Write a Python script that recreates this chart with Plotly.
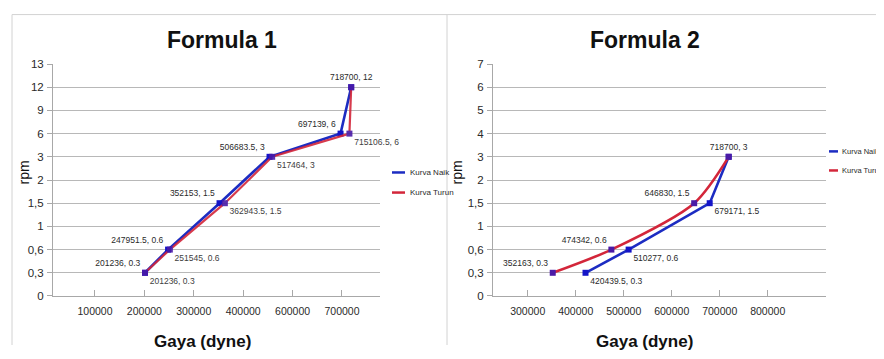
import numpy as np
import plotly.graph_objects as go

# page offset of the plot (body margin) and figure size
OFF = 8
W, H = 876, 343
# measured vertical mapping of the photographed page: y_photo = VY0 + VS * y_page
VY0, VS = 6.5, 0.961

# ---------------- data ----------------
series_names = ["Kurva Naik", "Kurva Turun"]

# Formula 1
f1_naik_x = [201236, 247951.5, 352153, 506683.5, 697139, 718700]
f1_naik_y = [0.3, 0.6, 1.5, 3, 6, 12]
f1_turun_x = [718700, 715106.5, 517464, 362943.5, 251545, 201236]
f1_turun_y = [12, 6, 3, 1.5, 0.6, 0.3]
f1_x_ticks = [100000, 200000, 300000, 400000, 600000, 700000]
f1_y_ticks = [0, 0.3, 0.6, 1, 1.5, 2, 3, 6, 9, 12, 13]

# Formula 2
f2_naik_x = [420439.5, 510277, 679171, 718700]
f2_naik_y = [0.3, 0.6, 1.5, 3]
f2_turun_x = [718700, 646830, 474342, 352163]
f2_turun_y = [3, 1.5, 0.6, 0.3]
f2_x_ticks = [300000, 400000, 500000, 600000, 700000, 800000]
f2_y_ticks = [0, 0.3, 0.6, 1, 1.5, 2, 3, 4, 5, 6, 7]

titles = ["Formula 1", "Formula 2"]
x_title = "Gaya (dyne)"
y_title = "rpm"

# ---------------- style ----------------
FONT = "Liberation Sans Narrow, Arial Narrow, Liberation Sans, Arial, sans-serif"
BLUE = "#1c2cc2"
RED = "#d3263a"
BLUE_MK = "#1414c8"
RED_MK = "#4a1aa6"
GRID = "#b8b8b8"
TXT = "#2a2a2a"
LABEL_SIZE = 8.5


def fmt(v):
    return f"{v:.10g}"


def to_index(values, ticks):
    """Piecewise-linear position of values on an axis whose ticks are equally spaced."""
    t = np.asarray(ticks, float)
    v = np.asarray(values, float)
    idx = np.arange(len(t), dtype=float)
    out = np.interp(v, t, idx)
    lo = v < t[0]
    out[lo] = (v[lo] - t[0]) / (t[1] - t[0])
    hi = v > t[-1]
    out[hi] = len(t) - 1 + (v[hi] - t[-1]) / (t[-1] - t[-2])
    return out


def labels(xs, ys):
    return [f"{fmt(x)}, {fmt(y)}" for x, y in zip(xs, ys)]


def px_x(p):  # target photo pixel -> paper fraction
    return (p - OFF) / W


def px_y(p):
    page = (p - VY0) / VS
    return min(1.0, max(0.0, 1 - (page - OFF) / H))


fig = go.Figure()
lab_font = dict(family=FONT, size=LABEL_SIZE, color=TXT)

# ---------- Formula 1 ----------
t = labels(f1_naik_x, f1_naik_y)
pos = ["top left"] * (len(t) - 1) + ["top center"]
fig.add_trace(go.Scatter(
    x=to_index(f1_naik_x, f1_x_ticks), y=to_index(f1_naik_y, f1_y_ticks),
    mode="lines+markers+text", name=series_names[0],
    line=dict(color=BLUE, width=2.6),
    marker=dict(symbol="square", size=6, color=BLUE_MK),
    text=t, textposition=pos, textfont=lab_font,
    xaxis="x", yaxis="y", showlegend=False, cliponaxis=False))
t = labels(f1_turun_x, f1_turun_y)
t[0] = ""
pos = ["bottom right"] * len(t)
fig.add_trace(go.Scatter(
    x=to_index(f1_turun_x, f1_x_ticks), y=to_index(f1_turun_y, f1_y_ticks),
    mode="lines+markers+text", name=series_names[1],
    line=dict(color=RED, width=2.2),
    marker=dict(symbol="square", size=6, color=RED_MK),
    text=t, textposition=pos, textfont=lab_font,
    xaxis="x", yaxis="y", showlegend=False, cliponaxis=False, opacity=0.9))

# ---------- Formula 2 ----------
t = labels(f2_naik_x, f2_naik_y)
pos = ["bottom right"] * (len(t) - 1) + ["top center"]
fig.add_trace(go.Scatter(
    x=f2_naik_x, y=to_index(f2_naik_y, f2_y_ticks),
    mode="lines+markers+text", name=series_names[0],
    line=dict(color=BLUE, width=2.6),
    marker=dict(symbol="square", size=6, color=BLUE_MK),
    text=t, textposition=pos, textfont=lab_font,
    xaxis="x2", yaxis="y2", showlegend=False, cliponaxis=False))
t = labels(f2_turun_x, f2_turun_y)
t[0] = ""
pos = ["top left"] * len(t)
fig.add_trace(go.Scatter(
    x=f2_turun_x, y=to_index(f2_turun_y, f2_y_ticks),
    mode="lines+markers+text", name=series_names[1],
    line=dict(color=RED, width=2.6, shape="spline", smoothing=0.8),
    marker=dict(symbol="square", size=6, color=RED_MK),
    text=t, textposition=pos, textfont=lab_font,
    xaxis="x2", yaxis="y2", showlegend=False, cliponaxis=False))

ydom = [px_y(295), px_y(64)]
common_x = dict(showgrid=False, zeroline=False, showline=True, linecolor="#a8a8a8",
                linewidth=1, ticks="inside", ticklen=6, tickcolor="#a8a8a8",
                tickfont=dict(family=FONT, size=10.5, color=TXT),
                ticklabelstandoff=5, fixedrange=True)
common_y = dict(showgrid=True, gridcolor=GRID, gridwidth=1, zeroline=False, showline=True,
                linecolor="#a8a8a8", linewidth=1, ticks="outside", ticklen=5,
                tickcolor="#a8a8a8", tickfont=dict(family=FONT, size=11.5, color=TXT),
                ticklabelstandoff=1, fixedrange=True)

# Formula 2 x range: 300000 at photo x 527.7, 48 px per 100000
F2_LEFT, F2_RIGHT = 493, 826
x2_lo = 300000 - (527.7 - F2_LEFT) / 48.0 * 100000
x2_hi = 300000 + (F2_RIGHT - 527.7) / 48.0 * 100000

fig.update_layout(
    width=W, height=H, margin=dict(l=0, r=0, t=0, b=0),
    paper_bgcolor="white", plot_bgcolor="white",
    xaxis=dict(domain=[px_x(53), px_x(380)], anchor="y",
               range=[-0.85, len(f1_x_ticks) - 1 + 0.77],
               tickvals=list(range(len(f1_x_ticks))),
               ticktext=[fmt(v) for v in f1_x_ticks], **common_x),
    yaxis=dict(domain=ydom, anchor="x", range=[0, len(f1_y_ticks) - 1],
               tickvals=list(range(len(f1_y_ticks))),
               ticktext=[fmt(v).replace(".", ",") for v in f1_y_ticks], **common_y),
    xaxis2=dict(domain=[px_x(F2_LEFT), px_x(F2_RIGHT)], anchor="y2",
                range=[x2_lo, x2_hi], tickvals=f2_x_ticks,
                ticktext=[fmt(v) for v in f2_x_ticks], **common_x),
    yaxis2=dict(domain=ydom, anchor="x2", range=[0, len(f2_y_ticks) - 1],
                tickvals=list(range(len(f2_y_ticks))),
                ticktext=[fmt(v).replace(".", ",") for v in f2_y_ticks], **common_y),
)

# panel borders
border = dict(color="#d2d2d2", width=1)
top = 1 - 0.6 / H
fig.add_shape(type="line", xref="paper", yref="paper", x0=px_x(12), x1=1, y0=top, y1=top, line=border)
fig.add_shape(type="line", xref="paper", yref="paper", x0=px_x(12), x1=px_x(12), y0=0, y1=top, line=border)
fig.add_shape(type="line", xref="paper", yref="paper", x0=px_x(447), x1=px_x(447), y0=0, y1=top, line=border)

# titles
for title, cx in zip(titles, [222, 645]):
    fig.add_annotation(text=title, x=px_x(cx), y=px_y(40), xref="paper", yref="paper",
                       showarrow=False, xanchor="center", yanchor="middle",
                       font=dict(family=FONT, size=23, color="#111", weight="bold"))
for cx in [202, 644]:
    fig.add_annotation(text=x_title, x=px_x(cx), y=px_y(340), xref="paper", yref="paper",
                       showarrow=False, xanchor="center", yanchor="middle",
                       font=dict(family=FONT, size=17, color="#111", weight="bold"))
for cx in [24, 457]:
    fig.add_annotation(text=y_title, x=px_x(cx), y=px_y(172), xref="paper", yref="paper",
                       showarrow=False, xanchor="center", yanchor="middle", textangle=-90,
                       font=dict(family=FONT, size=14, color="#111"))

# legends (line samples + labels)
for (lx0, lx1, tx, ys, fs) in [(392, 405, 408, [172, 192], 8), (829, 838, 840, [151, 170], 7.5)]:
    for name, col, yy in zip(series_names, [BLUE, RED], ys):
        fig.add_shape(type="line", xref="paper", yref="paper", x0=px_x(lx0), x1=px_x(lx1),
                      y0=px_y(yy), y1=px_y(yy), line=dict(color=col, width=2.5))
        fig.add_annotation(text=name, x=px_x(tx), y=px_y(yy), xref="paper", yref="paper",
                           showarrow=False, xanchor="left", yanchor="middle",
                           font=dict(family=FONT, size=fs, color=TXT))

fig.write_html("out.html")
